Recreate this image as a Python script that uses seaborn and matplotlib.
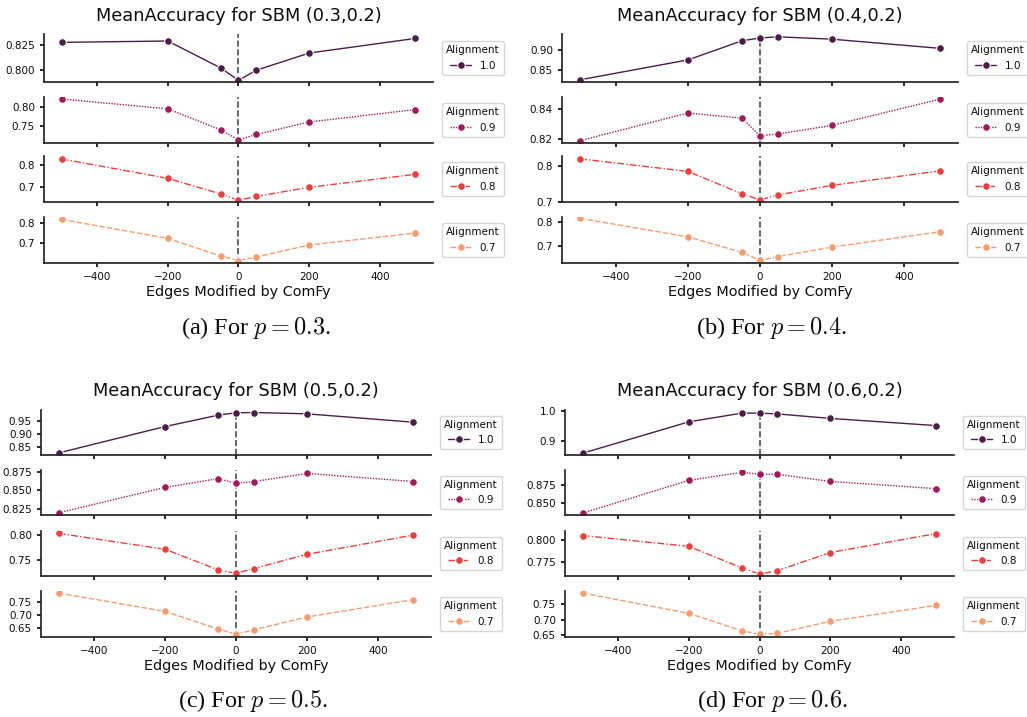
import numpy as np
import pandas as pd
import matplotlib
matplotlib.use('Agg')
import matplotlib.pyplot as plt
import seaborn as sns

# date
edges = [-500, -200, -50, 0, 50, 200, 500]
alignments = ['1.0', '0.9', '0.8', '0.7']

acc_p03 = [
    [0.828, 0.8294, 0.802, 0.7895, 0.7997, 0.8172, 0.832],
    [0.8207, 0.7948, 0.7397, 0.713, 0.7276, 0.7603, 0.793],
    [0.8277, 0.7385, 0.666, 0.637, 0.655, 0.697, 0.757],
    [0.818, 0.723, 0.635, 0.612, 0.630, 0.690, 0.750],
]
acc_p04 = [
    [0.826, 0.876, 0.924, 0.931, 0.934, 0.928, 0.905],
    [0.8188, 0.8376, 0.8341, 0.8221, 0.8233, 0.8292, 0.847],
    [0.821, 0.7854, 0.7223, 0.705, 0.719, 0.746, 0.787],
    [0.8145, 0.738, 0.674, 0.6406, 0.6565, 0.6957, 0.759],
]
acc_p05 = [
    [0.828, 0.9286, 0.972, 0.981, 0.982, 0.977, 0.945],
    [0.8195, 0.854, 0.866, 0.8595, 0.862, 0.873, 0.862],
    [0.8033, 0.772, 0.7313, 0.7247, 0.734, 0.762, 0.800],
    [0.7865, 0.715, 0.646, 0.6257, 0.643, 0.693, 0.761],
]
acc_p06 = [
    [0.860, 0.9645, 0.9935, 0.9935, 0.991, 0.976, 0.952],
    [0.8366, 0.8813, 0.8924, 0.8897, 0.8897, 0.8799, 0.870],
    [0.8053, 0.7928, 0.7678, 0.7606, 0.7644, 0.7856, 0.8076],
    [0.787, 0.7207, 0.664, 0.652, 0.6554, 0.6946, 0.7467],
]

ylim_p03 = [(0.7878, 0.8365), (0.7052, 0.8259), (0.6292, 0.8415), (0.600, 0.830)]
ylim_p04 = [(0.8205, 0.941), (0.8172, 0.8485), (0.699, 0.829), (0.630, 0.820)]
ylim_p05 = [(0.820, 0.9916), (0.8164, 0.8777), (0.7193, 0.808), (0.615, 0.7946)]
ylim_p06 = [(0.854, 1.004), (0.834, 0.8955), (0.7583, 0.8106), (0.6435, 0.7935)]

yt_p03 = [[0.800, 0.825], [0.75, 0.80], [0.7, 0.8], [0.7, 0.8]]
yt_p04 = [[0.85, 0.90], [0.82, 0.84], [0.7, 0.8], [0.7, 0.8]]
yt_p05 = [[0.85, 0.90, 0.95], [0.825, 0.850, 0.875], [0.75, 0.80], [0.65, 0.70, 0.75]]
yt_p06 = [[0.9, 1.0], [0.850, 0.875], [0.775, 0.800], [0.65, 0.70, 0.75]]

sns.set_theme(style='ticks')
plt.rcParams['font.family'] = ['DejaVu Sans']
plt.rcParams['mathtext.fontset'] = 'cm'
for k in ['text.color', 'axes.labelcolor', 'xtick.color', 'ytick.color']:
    plt.rcParams[k] = '0.05'

W, H = 1027, 717
fig = plt.figure(figsize=(W / 100, H / 100), dpi=100)

colors = sns.color_palette('rocket', 4)
dashes = ['', (1, 1), (5, 1.5, 1, 1.5), (4, 1.5)]


def px_axes(l, r, t, b):
    return fig.add_axes([l / W, 1 - b / H, (r - l) / W, (b - t) / H])


def draw_panel(p, letter, acc, ylims, yticks, left, right, rows, title_y, cap_x, cap_y):
    for i, (t, b) in enumerate(rows):
        ax = px_axes(left, right, t, b)
        df = pd.DataFrame({'Edges': edges, 'Accuracy': acc[i], 'Alignment': alignments[i]})
        sns.lineplot(data=df, x='Edges', y='Accuracy', hue='Alignment', style='Alignment',
                     palette=[colors[i]], dashes=[dashes[i]], markers=['o'],
                     linewidth=1, markersize=5.5, ax=ax)
        ax.axvline(0, color='0.3', ls='--', lw=1.2, zorder=1)
        ax.set_xlim(-550, 550)
        ax.set_xticks([-400, -200, 0, 200, 400])
        ax.set_ylim(*ylims[i])
        ax.set_yticks(yticks[i])
        ax.set_ylabel('')
        ax.tick_params(labelsize=7.5, length=3)
        sns.despine(ax=ax)
        sns.move_legend(ax, 'center left', bbox_to_anchor=(1.01, 0.5),
                        fontsize=7.5, title_fontsize=7.5)
        if i < 3:
            ax.set_xlabel('')
            ax.tick_params(labelbottom=False)
        else:
            ax.set_xlabel('Edges Modified by ComFy', fontsize=10.4, labelpad=2)
    fig.text((left + right) / 2 / W, 1 - title_y / H, f'MeanAccuracy for SBM ({p},0.2)',
             fontsize=12.8, ha='center', va='center')
    fig.text(cap_x / W, 1 - cap_y / H, f'({letter}) For $p = {p}$.',
             family='Liberation Serif', fontsize=17.5, ha='center', va='center')


rows_top = [(34, 82), (97, 143), (156, 202), (217, 263)]
rows_bot = [(410, 455), (470, 515), (531, 576), (591, 637)]

draw_panel('0.3', 'a', acc_p03, ylim_p03, yt_p03, 44, 433, rows_top, 16, 256, 328)
draw_panel('0.4', 'b', acc_p04, ylim_p04, yt_p04, 562, 958, rows_top, 16, 772, 328)
draw_panel('0.5', 'c', acc_p05, ylim_p05, yt_p05, 41, 431, rows_bot, 391, 253, 701)
draw_panel('0.6', 'd', acc_p06, ylim_p06, yt_p06, 565, 954, rows_bot, 391, 773, 701)

fig.savefig('out.png', dpi=100)
